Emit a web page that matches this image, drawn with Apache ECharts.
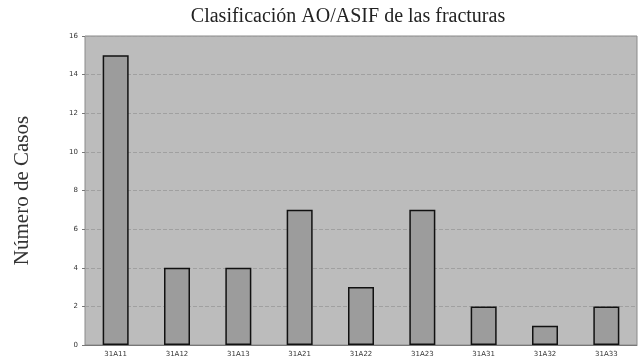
<!DOCTYPE html>
<html><head><meta charset="utf-8">
<script src="https://cdn.jsdelivr.net/npm/echarts@6/dist/echarts.min.js"></script>
<style>html,body{margin:0;padding:0;background:#fff}#c{width:644px;height:359px}</style>
</head><body><div id="c"></div>
<script>
const categories = ['31A11','31A12','31A13','31A21','31A22','31A23','31A31','31A32','31A33'];
const casos = [15, 4, 4, 7, 3, 7, 2, 1, 2];
const yTicks = [0, 2, 4, 6, 8, 10, 12, 14, 16];

const chart = echarts.init(document.getElementById('c'), null, {renderer: 'canvas'});
chart.setOption({
  animation: false,
  title: {
    text: 'Clasificación AO/ASIF de las fracturas',
    left: 343, top: 2, textAlign: 'center',
    textStyle: {fontFamily: 'Liberation Serif', fontWeight: 'normal', fontSize: 20, color: '#222'}
  },
  grid: {left: 85, right: 7, top: 36, bottom: 14, show: true, backgroundColor: '#bcbcbc', borderColor: '#8a8a8a', borderWidth: 1},
  xAxis: {
    type: 'category', data: categories,
    axisLine: {show: true, lineStyle: {color: '#777'}},
    axisTick: {show: false},
    axisLabel: {fontSize: 7, color: '#333', margin: 6, fontFamily: 'DejaVu Sans'}
  },
  yAxis: {
    type: 'value', min: yTicks[0], max: yTicks[yTicks.length - 1], interval: 2,
    name: 'Número de Casos', nameLocation: 'middle', nameGap: 52,
    nameTextStyle: {fontFamily: 'Liberation Serif', fontSize: 21, color: '#333'},
    axisLine: {show: false},
    axisTick: {show: true, length: 3, lineStyle: {color: '#777'}},
    axisLabel: {fontSize: 7, color: '#333', margin: 7, fontFamily: 'DejaVu Sans'},
    splitLine: {show: true, lineStyle: {color: '#a0a0a0', type: 'dashed', width: 1}}
  },
  series: [{
    type: 'bar', data: casos, barWidth: 26,
    itemStyle: {color: '#9c9c9c', borderColor: '#111', borderWidth: 1.5}
  }]
});
</script></body></html>
